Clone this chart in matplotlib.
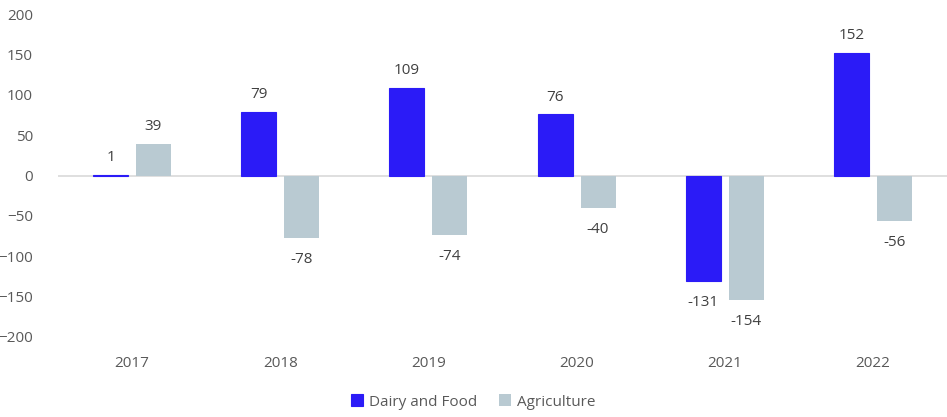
import matplotlib
matplotlib.use("Agg")
import matplotlib.pyplot as plt
import numpy as np

years = ["2017", "2018", "2019", "2020", "2021", "2022"]
dairy_food = [1, 79, 109, 76, -131, 152]
agriculture = [39, -78, -74, -40, -154, -56]

plt.rcParams["font.family"] = ["Open Sans", "DejaVu Sans"]
text_col = "#595959"
blue = "#2B1BF7"

fig = plt.figure(figsize=(9.47, 4.17), dpi=100)
ax = fig.add_axes([0.0612, 0.192, 0.9388, 0.774])

x = np.arange(len(years))
w = 0.236
off = 0.145
b1 = ax.bar(x - off, dairy_food, w, color=blue, edgecolor=blue, lw=0.8,
            label="Dairy and Food", zorder=3)
b2 = ax.bar(x + off, agriculture, w, color="#B9CAD2", label="Agriculture", zorder=3)

for bars, vals in ((b1, dairy_food), (b2, agriculture)):
    for rect, v in zip(bars, vals):
        cx = rect.get_x() + rect.get_width() / 2
        if v >= 0:
            ax.annotate(f"{v}", (cx, v), xytext=(0, 7), textcoords="offset points",
                        ha="center", va="bottom", fontsize=11, color="#404040")
        else:
            ax.annotate(f"{v}", (cx, v), xytext=(0, -10), textcoords="offset points",
                        ha="center", va="top", fontsize=11, color="#404040")

ax.set_xlim(-0.5, 5.5)
ax.set_ylim(-200, 200)
ax.set_yticks(range(-200, 201, 50))
ax.set_xticks(x)
ax.set_xticklabels(years)
ax.axhline(0, color="#D9D9D9", lw=1.2, zorder=2)
for s in ax.spines.values():
    s.set_visible(False)
ax.tick_params(length=0, labelsize=11, colors=text_col)
ax.tick_params(axis="y", pad=18)
ax.tick_params(axis="x", pad=14)

fig.legend(loc="lower center", bbox_to_anchor=(0.5, -0.015), ncol=2, frameon=False,
           fontsize=11, handlelength=0.8, handleheight=0.8, handletextpad=0.4,
           columnspacing=1.4, labelcolor=text_col)

fig.savefig("out.png", dpi=100)
